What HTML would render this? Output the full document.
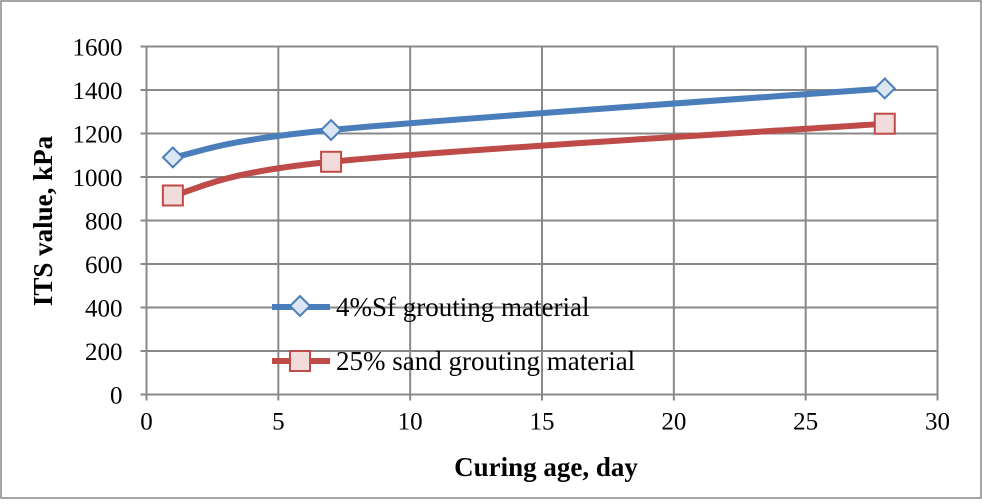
<!DOCTYPE html>
<html><head><meta charset="utf-8"><style>
body{margin:0;background:#fff}
svg text{font-family:"Liberation Serif",serif;fill:#000}
</style></head><body>
<svg width="982" height="499">
<rect x="1" y="1" width="980" height="497" fill="#fff" stroke="#888" stroke-width="1.5"/>
<g id="grid"></g>
<g id="ticks"></g>
<g id="series"></g>
<text x="546" y="476" font-size="27" font-weight="bold" text-anchor="middle">Curing age, day</text>
<text transform="translate(52,221) rotate(-90)" font-size="27" font-weight="bold" text-anchor="middle">ITS value, kPa</text>
<g>
<g>
<line x1="272" y1="307" x2="330" y2="307" stroke="#4a7ebb" stroke-width="6"/>
<rect x="293" y="299" width="14" height="14" transform="rotate(45 300 306)" fill="#dce6f2" stroke="#4a7ebb" stroke-width="2"/>
<text x="336" y="316" font-size="27">4%Sf grouting material</text></g>
<g>
<line x1="272" y1="361" x2="330" y2="361" stroke="#be4b48" stroke-width="6"/>
<rect x="290" y="351" width="20" height="20" fill="#f2dcdb" stroke="#be4b48" stroke-width="2"/>
<text x="336" y="370" font-size="27">25% sand grouting material</text></g>
</g>
</svg>
<script>
const xTicks=[0,5,10,15,20,25,30];
const yTicks=[0,200,400,600,800,1000,1200,1400,1600];
const days=[1,7,28];
const sfValues=[1090,1216,1407];
const sandValues=[915,1070,1245];
const NS="http://www.w3.org/2000/svg";
const X=v=>146.5+v*(937.5-146.5)/30;
const Y=v=>394.5-v*(394.5-46.5)/1600;
function mk(t,a,p){const e=document.createElementNS(NS,t);for(const k in a)e.setAttribute(k,a[k]);p.appendChild(e);return e;}
const g=document.getElementById('grid'),tk=document.getElementById('ticks'),s=document.getElementById('series');
xTicks.forEach(v=>{const l=mk('line',{x1:X(v),x2:X(v),y1:Y(1600),y2:Y(0)+6,stroke:'#888','stroke-width':2},g);


const t=mk('text',{x:X(v),y:Y(0)+35,'font-size':25,'text-anchor':'middle'},tk);t.textContent=v;

});
yTicks.forEach(v=>{const l=mk('line',{x1:X(0)-6,x2:X(30),y1:Y(v),y2:Y(v),stroke:'#888','stroke-width':2},g);


const t=mk('text',{x:X(0)-24,y:Y(v)+9,'font-size':25,'text-anchor':'end'},tk);t.textContent=v;

});
function path(vals){const p=days.map((d,i)=>[X(d),Y(vals[i])]);let d=`M${p[0][0]},${p[0][1]}`;
for(let i=0;i<p.length-1;i++){const p0=p[i-1]||p[i],p1=p[i],p2=p[i+1],p3=p[i+2]||p2,k=1/6;
d+=`C${p1[0]+(p2[0]-p0[0])*k},${p1[1]+(p2[1]-p0[1])*k} ${p2[0]-(p3[0]-p1[0])*k},${p2[1]-(p3[1]-p1[1])*k} ${p2[0]},${p2[1]}`;}return d;}
const l1=mk('path',{d:path(sfValues),fill:'none',stroke:'#4a7ebb','stroke-width':6},s);


const l2=mk('path',{d:path(sandValues),fill:'none',stroke:'#be4b48','stroke-width':6},s);


days.forEach((d,i)=>{const x=X(d),y=Y(sfValues[i]);
const m=mk('rect',{x:x-7,y:y-7,width:14,height:14,transform:`rotate(45 ${x} ${y})`,fill:'#dce6f2',stroke:'#4a7ebb','stroke-width':2},s);


const y2=Y(sandValues[i]);
const n=mk('rect',{x:x-10,y:y2-10,width:20,height:20,fill:'#f2dcdb',stroke:'#be4b48','stroke-width':2},s);

});
</script>
</body></html>
